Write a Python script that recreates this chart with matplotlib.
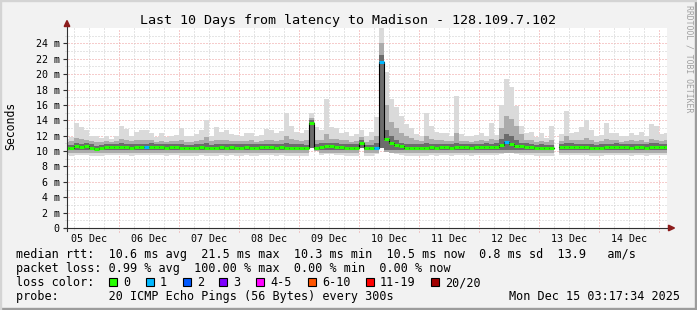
import numpy as np
import matplotlib
matplotlib.use("Agg")
import matplotlib.pyplot as plt
from matplotlib.patches import Polygon, Rectangle

W, H = 697, 310
MONO = "DejaVu Sans Mono"

# data: 2 hour steps, hours counted from 05 Dec 00:00
step_start = 2
step_hours = 2

median = [10.4, 10.35, 10.6, 10.5, 10.6, 10.45, 10.25, 10.4, 10.5, 10.5, 10.5,
          10.5, 10.5, 10.45, 10.5, 10.5, 10.5, 10.55, 10.5, 10.5, 10.45, 10.5, 10.5,
          10.45, 10.4, 10.4, 10.45, 10.5, 10.45, 10.4, 10.45, 10.5, 10.45, 10.5, 10.45,
          10.45, 10.5, 10.45, 10.45, 10.5, 10.5, 10.5, 10.45, 10.5, 10.45, 10.4, 10.45,
          10.45, 10.4, 13.6, 10.45, 10.55, 10.6, 10.6, 10.55, 10.5, 10.45, 10.45, 10.45,
          11.1, 10.45, 10.4, 10.4, 21.6, 11.6, 11.1, 10.85, 10.6, 10.45, 10.45, 10.45,
          10.45, 10.45, 10.5, 10.45, 10.5, 10.5, 10.45, 10.5, 10.5, 10.5, 10.45, 10.5,
          10.5, 10.55, 10.5, 10.55, 10.75, 11.15, 10.9, 10.65, 10.6, 10.55, 10.5, 10.45,
          10.45, 10.4, 10.35, np.nan, 10.5, 10.5, 10.55, 10.5, 10.5, 10.5, 10.45, 10.35,
          10.45, 10.5, 10.5, 10.55, 10.5, 10.5, 10.45, 10.5, 10.5, 10.45, 10.5, 10.55,
          10.5, 10.5]

loss = [0, 0, 0, 0, 0, 0, 0, 0, 0, 0, 0,
        0, 0, 0, 0, 0, 1, 0, 0, 0, 0, 0, 0,
        0, 0, 0, 0, 0, 0, 0, 0, 0, 0, 0, 0,
        0, 0, 0, 0, 0, 0, 0, 0, 0, 0, 0, 0,
        0, 0, 0, 0, 0, 0, 0, 0, 0, 0, 0, 0,
        0, 0, 0, 1, 1, 0, 0, 0, 0, 0, 0, 0,
        0, 0, 0, 0, 0, 0, 0, 0, 0, 0, 0, 0,
        0, 0, 0, 0, 0, 1, 0, 0, 0, 0, 0, 0,
        0, 0, 0, 0, 0, 0, 0, 0, 0, 0, 0, 0,
        0, 0, 0, 0, 0, 0, 0, 0, 0, 0, 0, 0,
        0, 0]

smoke_max = [11.6, 11.8, 13.6, 13.1, 12.7, 12.0, 12.0, 11.7, 12.0, 11.6, 12.0,
             13.2, 12.9, 11.9, 12.5, 12.8, 12.8, 12.4, 11.8, 12.3, 11.8, 12.0, 12.1,
             13.0, 12.0, 11.9, 12.2, 12.8, 14.0, 12.0, 13.1, 12.5, 12.7, 12.2, 12.1,
             12.0, 12.3, 12.3, 12.0, 12.1, 12.9, 12.8, 12.3, 12.6, 14.9, 13.3, 12.5,
             12.3, 12.7, 14.9, 13.1, 12.7, 16.8, 13.1, 13.0, 12.3, 12.5, 11.9, 12.2,
             12.7, 11.9, 12.5, 14.4, 26.0, 20.3, 16.8, 15.7, 14.6, 13.5, 13.0, 12.2,
             12.0, 14.9, 13.3, 12.5, 12.4, 12.3, 12.0, 17.1, 12.2, 12.0, 11.9, 12.1,
             12.4, 12.0, 13.6, 12.1, 16.0, 19.4, 18.3, 15.8, 13.2, 12.3, 12.5, 11.8,
             12.3, 11.7, 13.3, np.nan, 12.2, 15.2, 12.3, 12.5, 13.1, 14.0, 12.8, 11.9,
             12.1, 13.7, 12.4, 12.3, 11.9, 12.0, 12.4, 12.1, 12.5, 11.9, 13.5, 13.2,
             12.2, 12.4]

smoke_mid = [11.2, 11.3, 11.7, 11.6, 11.5, 11.3, 11.2, 11.2, 11.3, 11.2, 11.3,
             11.6, 11.5, 11.3, 11.4, 11.5, 11.5, 11.4, 11.2, 11.3, 11.2, 11.3, 11.3,
             11.5, 11.2, 11.2, 11.3, 11.5, 11.8, 11.3, 11.5, 11.4, 11.4, 11.3, 11.3,
             11.3, 11.3, 11.4, 11.2, 11.3, 11.5, 11.5, 11.3, 11.4, 11.9, 11.6, 11.4,
             11.3, 11.4, 14.3, 11.5, 11.5, 12.2, 11.6, 11.6, 11.4, 11.4, 11.2, 11.3,
             11.8, 11.2, 11.4, 12.0, 24.0, 16.0, 13.8, 13.0, 12.4, 12.0, 11.7, 11.4,
             11.3, 12.0, 11.6, 11.4, 11.4, 11.3, 11.3, 12.4, 11.3, 11.3, 11.2, 11.3,
             11.4, 11.3, 11.6, 11.5, 13.0, 14.6, 14.2, 13.2, 12.2, 11.5, 11.4, 11.2,
             11.3, 11.2, 11.5, np.nan, 11.3, 11.9, 11.4, 11.4, 11.5, 11.7, 11.4, 11.2,
             11.3, 11.6, 11.4, 11.4, 11.2, 11.3, 11.4, 11.3, 11.4, 11.2, 11.6, 11.5,
             11.3, 11.4]

core_hi = [10.8, 10.8, 11.0, 10.9, 11.0, 10.9, 10.7, 10.8, 10.9, 10.9, 10.9,
           11.0, 10.9, 10.9, 10.9, 10.9, 10.9, 11.0, 10.9, 10.9, 10.9, 10.9, 10.9,
           10.9, 10.8, 10.8, 10.9, 10.9, 11.0, 10.8, 10.9, 10.9, 10.9, 10.9, 10.9,
           10.9, 10.9, 10.9, 10.9, 10.9, 10.9, 10.9, 10.9, 10.9, 11.0, 10.9, 10.9,
           10.9, 10.8, 14.0, 10.9, 11.0, 11.1, 11.0, 11.0, 10.9, 10.9, 10.9, 10.9,
           11.4, 10.8, 10.8, 11.0, 22.5, 12.8, 11.9, 11.5, 11.1, 10.9, 10.9, 10.9,
           10.9, 11.0, 10.9, 10.9, 10.9, 10.9, 10.9, 11.0, 10.9, 10.9, 10.9, 10.9,
           10.9, 11.0, 10.9, 11.0, 11.6, 12.2, 11.9, 11.4, 11.1, 11.0, 10.9, 10.8,
           10.9, 10.8, 10.8, np.nan, 10.9, 11.0, 11.0, 10.9, 10.9, 10.9, 10.9, 10.8,
           10.9, 10.9, 10.9, 11.0, 10.9, 10.9, 10.9, 10.9, 10.9, 10.9, 11.0, 11.0,
           10.9, 10.9]

smoke_lo = [9.5, 9.4, 9.5, 9.5, 9.5, 9.4, 9.3, 9.4, 9.5, 9.5, 9.5,
            9.5, 9.5, 9.4, 9.5, 9.5, 9.5, 9.5, 9.5, 9.5, 9.4, 9.5, 9.5,
            9.4, 9.4, 9.4, 9.4, 9.5, 9.4, 9.4, 9.4, 9.5, 9.4, 9.5, 9.4,
            9.4, 9.5, 9.4, 9.4, 9.5, 9.5, 9.5, 9.4, 9.5, 9.4, 9.4, 9.4,
            9.4, 9.4, 10.4, 10.0, 9.5, 9.6, 9.6, 9.5, 9.5, 9.4, 9.4, 9.4,
            10.4, 9.4, 9.4, 9.6, 10.4, 9.9, 9.7, 9.6, 9.5, 9.4, 9.4, 9.4,
            9.4, 9.4, 9.5, 9.4, 9.5, 9.5, 9.4, 9.5, 9.5, 9.5, 9.4, 9.5,
            9.5, 9.5, 9.5, 9.5, 9.6, 9.8, 9.7, 9.6, 9.5, 9.5, 9.5, 9.4,
            9.4, 9.4, 9.4, np.nan, 9.5, 9.5, 9.5, 9.5, 9.5, 9.5, 9.4, 9.3,
            9.4, 9.5, 9.5, 9.5, 9.5, 9.5, 9.4, 9.5, 9.5, 9.4, 9.5, 9.5,
            9.5, 9.5]

day_labels = ["05 Dec", "06 Dec", "07 Dec", "08 Dec", "09 Dec",
              "10 Dec", "11 Dec", "12 Dec", "13 Dec", "14 Dec"]
y_ticks = [0, 2, 4, 6, 8, 10, 12, 14, 16, 18, 20, 22, 24]

loss_names = ["0", "1", "2", "3", "4-5", "6-10", "11-19", "20/20"]
loss_colors = ["#26ff00", "#00b8ff", "#0059ff", "#7e00ff",
               "#ff00ff", "#ff5500", "#ff0000", "#a10000"]

x_start, x_end = 3.29, 243.29   # last 10 days ending Dec 15 03:17
px_x = (x_end - x_start) / 600.0
px_y = 26.0 / 200.0

median = np.array(median)
smoke_max = np.array(smoke_max)
smoke_mid = np.array(smoke_mid)
core_hi = np.array(core_hi)
smoke_lo = np.array(smoke_lo)
edges = step_start + step_hours * np.arange(len(median) + 1)

fig = plt.figure(figsize=(W / 100, H / 100), dpi=100)
fig.patch.set_facecolor("#f2f2f2")
ax = fig.add_axes([67 / W, 1 - 228 / H, 600 / W, 200 / H])
ax.set_facecolor("white")
for s in ax.spines.values():
    s.set_visible(False)
ax.set_xlim(x_start, x_end)
ax.set_ylim(0, 26)

dots = (0, (1, 2))
# grid
for v in np.arange(1, 26, 1):
    col = "#ee9a9a" if v % 2 == 0 else "#cccccc"
    ax.plot([x_start - 2 * px_x, x_end], [v, v], color=col, lw=0.72,
            linestyle=dots, clip_on=False, zorder=1)
for h in np.arange(6, 244, 6):
    if h < x_start:
        continue
    major = h % 24 == 0
    col = "#ee9a9a" if major else "#cccccc"
    ax.plot([h, h], [-(3.5 if major else 2) * px_y, 26], color=col, lw=0.72,
            linestyle=dots, clip_on=False, zorder=1)

# smoke
ax.bar(edges[:-1], smoke_max - smoke_lo, bottom=smoke_lo, width=step_hours,
       align="edge", color="#dadada", linewidth=0, antialiased=False, zorder=2)
mid_lo = np.maximum(9.8, smoke_lo)
ax.bar(edges[:-1], smoke_mid - mid_lo, bottom=mid_lo, width=step_hours,
       align="edge", color="#ababab", linewidth=0, antialiased=False, zorder=3)
core_lo = np.maximum(10.1, smoke_lo)
ax.bar(edges[:-1], core_hi - core_lo, bottom=core_lo, width=step_hours,
       align="edge", color="#6c6c6c", linewidth=0, antialiased=False, zorder=4)

# median line coloured by loss
ax.step(edges, np.append(median, median[-1]), where="post", color="black",
        lw=0.8, zorder=5)
seg_cols = [loss_colors[int(l)] for l in loss]
ax.hlines(median, edges[:-1], edges[1:], colors=seg_cols, lw=2.2, zorder=6)

# axes with arrows
ax.plot([x_start - 3 * px_x, x_end + 1 * px_x], [0, 0], color="#303030",
        lw=0.8, clip_on=False, zorder=7)
ax.plot([x_start, x_start], [-3 * px_y, 26 + 2 * px_y], color="#303030",
        lw=0.8, clip_on=False, zorder=7)
ax.hlines(y_ticks, x_start - 4 * px_x, x_start, colors="#303030", lw=0.8,
          clip_on=False, zorder=7)

def fx(x):
    return x / W

def fy(y):
    return 1 - y / H

fig.patches.append(Polygon([(fx(67), fy(20.5)), (fx(64.2), fy(26.5)), (fx(69.8), fy(26.5))],
                           closed=True, transform=fig.transFigure, color="#8c1c1c"))
fig.patches.append(Polygon([(fx(674.5), fy(228)), (fx(668.5), fy(225.2)), (fx(668.5), fy(230.8))],
                           closed=True, transform=fig.transFigure, color="#8c1c1c"))

# tick labels
ax.set_yticks(y_ticks)
ax.set_yticklabels(["0" if v == 0 else "%d m" % v for v in y_ticks],
                   fontfamily=MONO, fontsize=7.2)
ax.set_xticks(np.arange(12, 240, 24))
ax.set_xticklabels(day_labels, fontfamily=MONO, fontsize=7.2)
ax.tick_params(axis="y", length=0, pad=5.2, colors="#000000")
ax.tick_params(axis="x", length=0, pad=4.6, colors="#000000")

# titles and legend
fig.text(fx(348), fy(24), "Last 10 Days from latency to Madison - 128.109.7.102",
         ha="center", va="baseline", fontfamily=MONO, fontsize=9.6)
fig.text(fx(11), fy(126), "Seconds", rotation=90, ha="center", va="center",
         fontfamily=MONO, fontsize=8.3)
fig.text(fx(688.5), fy(59), "RRDTOOL / TOBI OETIKER", rotation=270, ha="center",
         va="center", fontfamily=MONO, fontsize=5.9, color="#a0a0a0")

leg = dict(ha="left", va="baseline", fontfamily=MONO, fontsize=8.5)
fig.text(fx(16), fy(258), "median rtt:  10.6 ms avg  21.5 ms max  10.3 ms min  "
         "10.5 ms now  0.8 ms sd  13.9   am/s", **leg)
fig.text(fx(16), fy(272), "packet loss: 0.99 % avg  100.00 % max  0.00 % min  "
         "0.00 % now", **leg)
fig.text(fx(16), fy(286), "loss color:", **leg)
fig.text(fx(16), fy(300), "probe:       20 ICMP Echo Pings (56 Bytes) every 300s", **leg)
fig.text(fx(680), fy(300), "Mon Dec 15 03:17:34 2025", ha="right", va="baseline",
         fontfamily=MONO, fontsize=8.5)

box_x = [109, 146, 183, 219, 256, 308, 366, 431]
for bx, name, col in zip(box_x, loss_names, loss_colors):
    fig.patches.append(Rectangle((fx(bx), fy(286)), 8 / W, 8 / H, transform=fig.transFigure,
                                 facecolor=col, edgecolor="black", linewidth=0.8))
    fig.text(fx(bx + 14), fy(286), name, **leg)

# frame
fig.patches.append(Rectangle((0, 0), 1, 2 / H, transform=fig.transFigure, color="#9c9c9c"))
fig.patches.append(Rectangle((1 - 2 / W, 0), 2 / W, 1, transform=fig.transFigure, color="#9c9c9c"))
fig.patches.append(Rectangle((0, 1 - 1 / H), 1, 1 / H, transform=fig.transFigure, color="#d4d4d4"))
fig.patches.append(Rectangle((0, 0), 1 / W, 1, transform=fig.transFigure, color="#d4d4d4"))

fig.savefig("out.png", dpi=100, facecolor=fig.get_facecolor())
